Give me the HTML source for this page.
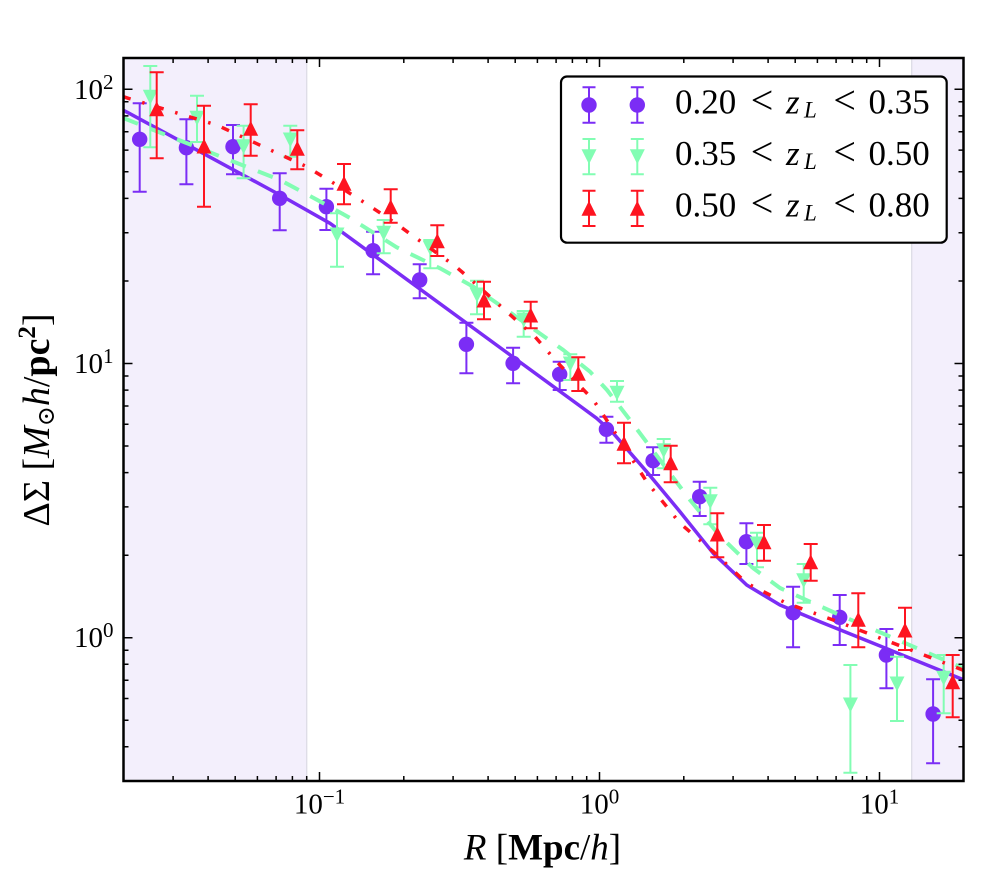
<!DOCTYPE html>
<html>
<head>
<meta charset="utf-8">
<style>
  html,body{margin:0;padding:0;background:#fff;}
  svg{display:block;}
</style>
</head>
<body>
<svg width="1000" height="882" viewBox="0 0 1000 882" xmlns="http://www.w3.org/2000/svg" font-family="'Liberation Serif', 'DejaVu Serif', serif">
  <defs>
    <clipPath id="ax"><rect x="123.5" y="58" width="840" height="723"/></clipPath>
    <circle id="pc" cx="0" cy="0" r="7.7" fill="#7b2df5"/>
    <polygon id="gt" points="-7.5,-7.5 7.5,-7.5 0,7.5" fill="#82fdb3"/>
    <polygon id="rt" points="0,-7.5 -7.5,7.5 7.5,7.5" fill="#fe1420"/>
  </defs>
  <rect x="0" y="0" width="1000" height="882" fill="#fff"/>

  <!-- shaded regions -->
  <rect x="123.5" y="58" width="183.2" height="723" fill="#f3effc"/>
  <rect x="911.7" y="58" width="51.8" height="723" fill="#f3effc"/>
  <line x1="306.7" y1="58" x2="306.7" y2="781" stroke="#dddce6" stroke-width="1.3"/>
  <line x1="911.7" y1="58" x2="911.7" y2="781" stroke="#dddce6" stroke-width="1.3"/>

  <g clip-path="url(#ax)">
    <!-- purple series -->
    <path fill="none" stroke="#7b2df5" stroke-width="2" d="M139.7 103.3V191.7M132.7 103.3h14M132.7 191.7h14
M186.4 119.3V184.3M179.4 119.3h14M179.4 184.3h14
M233 125V174.3M226 125h14M226 174.3h14
M279.7 173.3V230.3M272.7 173.3h14M272.7 230.3h14
M326.4 188.7V230M319.4 188.7h14M319.4 230h14
M373.1 231.7V274.3M366.1 231.7h14M366.1 274.3h14
M419.7 264.3V298.3M412.7 264.3h14M412.7 298.3h14
M466.4 322.7V373.3M459.4 322.7h14M459.4 373.3h14
M513.1 347.7V383.3M506.1 347.7h14M506.1 383.3h14
M559.7 361.7V390M552.7 361.7h14M552.7 390h14
M606.4 416.7V442.7M599.4 416.7h14M599.4 442.7h14
M653.1 447.3V475M646.1 447.3h14M646.1 475h14
M699.7 481.7V516M692.7 481.7h14M692.7 516h14
M746.4 523.3V564M739.4 523.3h14M739.4 564h14
M793.1 586.7V647.3M786.1 586.7h14M786.1 647.3h14
M839.7 595V645M832.7 595h14M832.7 645h14
M886.4 629V688.3M879.4 629h14M879.4 688.3h14
M933.1 679.3V763.3M926.1 679.3h14M926.1 763.3h14"/>
    <use href="#pc" x="139.7" y="139.3"/>
    <use href="#pc" x="186.4" y="147.7"/>
    <use href="#pc" x="233" y="146.7"/>
    <use href="#pc" x="279.7" y="198.3"/>
    <use href="#pc" x="326.4" y="206.7"/>
    <use href="#pc" x="373.1" y="250.7"/>
    <use href="#pc" x="419.7" y="280"/>
    <use href="#pc" x="466.4" y="344.3"/>
    <use href="#pc" x="513.1" y="363.3"/>
    <use href="#pc" x="559.7" y="374.3"/>
    <use href="#pc" x="606.4" y="429.3"/>
    <use href="#pc" x="653.1" y="460.7"/>
    <use href="#pc" x="699.7" y="496.7"/>
    <use href="#pc" x="746.4" y="541.7"/>
    <use href="#pc" x="793.1" y="612.7"/>
    <use href="#pc" x="839.7" y="617.3"/>
    <use href="#pc" x="886.4" y="655"/>
    <use href="#pc" x="933.1" y="714"/>
    <polyline fill="none" stroke="#7b2df5" stroke-width="3.5" stroke-linejoin="round"
      points="123,110 280,195 330,223.3 580,406 596.7,418.3 613.3,433.3 646.7,471.7 680,511.7 713.3,553.3 746.7,585 780,605 820,621.7 964,680"/>

    <!-- green series -->
    <path fill="none" stroke="#82fdb3" stroke-width="2" d="M150.3 66V147.3M143.3 66h14M143.3 147.3h14
M197 95.7V142M190 95.7h14M190 142h14
M243.6 125.7V178.3M236.6 125.7h14M236.6 178.3h14
M290.3 125.7V156.7M283.3 125.7h14M283.3 156.7h14
M337 213.3V266.7M330 213.3h14M330 266.7h14
M383.7 220V253.3M376.7 220h14M376.7 253.3h14
M430.3 240V268.3M423.3 240h14M423.3 268.3h14
M477 280.7V314.3M470 280.7h14M470 314.3h14
M523.7 311V336.7M516.7 311h14M516.7 336.7h14
M570.3 354.3V380M563.3 354.3h14M563.3 380h14
M617 381V401.7M610 381h14M610 401.7h14
M663.7 439V468.3M656.7 439h14M656.7 468.3h14
M710.3 487.7V524.3M703.3 487.7h14M703.3 524.3h14
M757 532.7V567.3M750 532.7h14M750 567.3h14
M803.7 564V602.7M796.7 564h14M796.7 602.7h14
M850.4 665V772.7M843.4 665h14M843.4 772.7h14
M897 656.7V721M890 656.7h14M890 721h14
M943.7 655V713.3M936.7 655h14M936.7 713.3h14"/>
    <use href="#gt" x="150.3" y="97.3"/>
    <use href="#gt" x="197" y="118.3"/>
    <use href="#gt" x="243.6" y="146.7"/>
    <use href="#gt" x="290.3" y="140"/>
    <use href="#gt" x="337" y="235"/>
    <use href="#gt" x="383.7" y="233.3"/>
    <use href="#gt" x="430.3" y="248.3"/>
    <use href="#gt" x="477" y="295"/>
    <use href="#gt" x="523.7" y="320"/>
    <use href="#gt" x="570.3" y="364"/>
    <use href="#gt" x="617" y="393.3"/>
    <use href="#gt" x="663.7" y="450.7"/>
    <use href="#gt" x="710.3" y="501.7"/>
    <use href="#gt" x="757" y="544"/>
    <use href="#gt" x="803.7" y="580.7"/>
    <use href="#gt" x="850.4" y="705"/>
    <use href="#gt" x="897" y="684"/>
    <use href="#gt" x="943.7" y="678.3"/>
    <polyline fill="none" stroke="#82fdb3" stroke-width="4" stroke-dasharray="16 13" stroke-linejoin="round"
      points="123,118 128.3,120 280,180 305,193.3 326.7,205 350,218 396.7,247.3 440,268.3 473.3,286.7 506.7,310 563.3,350 590,371.7 607,390 630,420 660,460 690,500 720,536 753,568 780,588 813,603 833,612 964,668.5"/>

    <!-- red series -->
    <path fill="none" stroke="#fe1420" stroke-width="2" d="M156.7 72.3V158.3M149.7 72.3h14M149.7 158.3h14
M204 105.7V206.7M197 105.7h14M197 206.7h14
M250.7 104.3V155.7M243.7 104.3h14M243.7 155.7h14
M297.3 130.3V169.3M290.3 130.3h14M290.3 169.3h14
M344 164V204.3M337 164h14M337 204.3h14
M390.7 189.3V222.7M383.7 189.3h14M383.7 222.7h14
M437.3 225.3V256M430.3 225.3h14M430.3 256h14
M484 281.7V319.3M477 281.7h14M477 319.3h14
M530.7 301.7V328.3M523.7 301.7h14M523.7 328.3h14
M578.3 357.3V391M571.3 357.3h14M571.3 391h14
M624 422.7V463.3M617 422.7h14M617 463.3h14
M670.7 445.7V482.3M663.7 445.7h14M663.7 482.3h14
M717.3 513.3V557.3M710.3 513.3h14M710.3 557.3h14
M764 525V560.7M757 525h14M757 560.7h14
M810.7 544V580.7M803.7 544h14M803.7 580.7h14
M858.3 593.3V647.3M851.3 593.3h14M851.3 647.3h14
M905 607.7V650M898 607.7h14M898 650h14
M952.7 655V717.3M945.7 655h14M945.7 717.3h14"/>
    <use href="#rt" x="156.7" y="108.8"/>
    <use href="#rt" x="204" y="146"/>
    <use href="#rt" x="250.7" y="128.3"/>
    <use href="#rt" x="297.3" y="148.3"/>
    <use href="#rt" x="344" y="183.3"/>
    <use href="#rt" x="390.7" y="206.7"/>
    <use href="#rt" x="437.3" y="240.7"/>
    <use href="#rt" x="484" y="300"/>
    <use href="#rt" x="530.7" y="315"/>
    <use href="#rt" x="578.3" y="373.3"/>
    <use href="#rt" x="624" y="443.3"/>
    <use href="#rt" x="670.7" y="462.7"/>
    <use href="#rt" x="717.3" y="534"/>
    <use href="#rt" x="764" y="541.7"/>
    <use href="#rt" x="810.7" y="561.7"/>
    <use href="#rt" x="858.3" y="619.3"/>
    <use href="#rt" x="905" y="630"/>
    <use href="#rt" x="952.7" y="681.7"/>
    <polyline fill="none" stroke="#fe1420" stroke-width="3.5" stroke-dasharray="8 12 2.5 12" stroke-linejoin="round"
      points="123,96.5 128.3,98.3 216.7,125 263.3,146.7 306.7,166.7 323,176.7 336.7,185 368.3,205 396.7,224 411.7,235 455,266 468.3,277.3 490,296.7 506.7,311.7 535,336.7 556.7,361.7 593.3,400 613.3,430 646.7,481.7 680,523.3 713.3,551.7 746.7,583.3 786.7,603.3 833.3,620 964,670.5"/>
  </g>

  <!-- ticks -->
  <path fill="none" stroke="#000" stroke-width="1.5" d="
M319.5 781v-9M599.5 781v-9M879.5 781v-9M319.5 58v9M599.5 58v9M879.5 58v9
M123.5 89.3h9M123.5 363.5h9M123.5 637.7h9M963.5 89.3h-9M963.5 363.5h-9M963.5 637.7h-9
M173.1 781v-5M208.1 781v-5M235.2 781v-5M257.4 781v-5M276.1 781v-5M292.4 781v-5M306.7 781v-5
M403.8 781v-5M453.1 781v-5M488.1 781v-5M515.2 781v-5M537.4 781v-5M556.1 781v-5M572.4 781v-5M586.7 781v-5
M683.8 781v-5M733.1 781v-5M768.1 781v-5M795.2 781v-5M817.4 781v-5M836.1 781v-5M852.4 781v-5M866.7 781v-5
M173.1 58v5M208.1 58v5M235.2 58v5M257.4 58v5M276.1 58v5M292.4 58v5M306.7 58v5
M403.8 58v5M453.1 58v5M488.1 58v5M515.2 58v5M537.4 58v5M556.1 58v5M572.4 58v5M586.7 58v5
M683.8 58v5M733.1 58v5M768.1 58v5M795.2 58v5M817.4 58v5M836.1 58v5M852.4 58v5M866.7 58v5
M123.5 746.8h5M123.5 720.2h5M123.5 698.5h5M123.5 680.2h5M123.5 664.3h5M123.5 650.2h5
M123.5 555.2h5M123.5 506.9h5M123.5 472.6h5M123.5 446h5M123.5 424.3h5M123.5 406h5M123.5 390.1h5M123.5 376h5
M123.5 281h5M123.5 232.7h5M123.5 198.4h5M123.5 171.8h5M123.5 150.1h5M123.5 131.8h5M123.5 115.9h5M123.5 101.8h5
M963.5 746.8h-5M963.5 720.2h-5M963.5 698.5h-5M963.5 680.2h-5M963.5 664.3h-5M963.5 650.2h-5
M963.5 555.2h-5M963.5 506.9h-5M963.5 472.6h-5M963.5 446h-5M963.5 424.3h-5M963.5 406h-5M963.5 390.1h-5M963.5 376h-5
M963.5 281h-5M963.5 232.7h-5M963.5 198.4h-5M963.5 171.8h-5M963.5 150.1h-5M963.5 131.8h-5M963.5 115.9h-5M963.5 101.8h-5"/>

  <!-- spines -->
  <rect x="123.5" y="58" width="840" height="723" fill="none" stroke="#000" stroke-width="2.5"/>

  <!-- tick labels -->
  <g font-size="29" fill="#000">
    <text x="113.5" y="99" text-anchor="end">10<tspan dy="-10" font-size="21">2</tspan></text>
    <text x="113.5" y="372.8" text-anchor="end">10<tspan dy="-10" font-size="21">1</tspan></text>
    <text x="113.5" y="647" text-anchor="end">10<tspan dy="-10" font-size="21">0</tspan></text>
    <text x="319.5" y="813.3" text-anchor="middle">10<tspan dy="-10" font-size="21">−1</tspan></text>
    <text x="599.5" y="813.3" text-anchor="middle">10<tspan dy="-10" font-size="21">0</tspan></text>
    <text x="879.5" y="813.3" text-anchor="middle">10<tspan dy="-10" font-size="21">1</tspan></text>
  </g>

  <!-- axis labels -->
  <text x="542.5" y="859.3" text-anchor="middle" font-size="37" fill="#000"><tspan font-style="italic">R</tspan> [<tspan font-weight="bold">Mpc</tspan>/<tspan font-style="italic">h</tspan>]</text>
  <text transform="translate(49,420) rotate(-90)" x="0" y="0" text-anchor="middle" font-size="38" fill="#000">ΔΣ [<tspan font-style="italic">M</tspan><tspan font-size="24" dy="5">⊙</tspan><tspan dy="-5" font-style="italic">h</tspan>/<tspan font-weight="bold">pc</tspan><tspan font-weight="bold" font-size="25" dy="-14">2</tspan><tspan dy="14">]</tspan></text>

  <!-- legend -->
  <rect x="561" y="76.5" width="385.7" height="166.2" rx="6" ry="6" fill="#fff" stroke="#000" stroke-width="2.2"/>
  <path fill="none" stroke="#7b2df5" stroke-width="2" d="M589 87.3V122.7M582.5 87.3h13M582.5 122.7h13M637.3 87.3V122.7M630.8 87.3h13M630.8 122.7h13"/>
  <use href="#pc" x="589" y="105"/>
  <use href="#pc" x="637.3" y="105"/>
  <path fill="none" stroke="#82fdb3" stroke-width="2" d="M589 139V174.3M582.5 139h13M582.5 174.3h13M637.3 139V174.3M630.8 139h13M630.8 174.3h13"/>
  <use href="#gt" x="589" y="156.7"/>
  <use href="#gt" x="637.3" y="156.7"/>
  <path fill="none" stroke="#fe1420" stroke-width="2" d="M589 190.7V226M582.5 190.7h13M582.5 226h13M637.3 190.7V226M630.8 190.7h13M630.8 226h13"/>
  <use href="#rt" x="589" y="208.3"/>
  <use href="#rt" x="637.3" y="208.3"/>

  <g font-size="35" fill="#000">
    <text x="675" y="113.5">0.20</text>
    <text x="762" y="113.5" text-anchor="middle" font-size="40">&lt;</text>
    <text x="786" y="113.5" font-style="italic">z</text>
    <text x="804" y="117.5" font-style="italic" font-size="23">L</text>
    <text x="844.7" y="113.5" text-anchor="middle" font-size="40">&lt;</text>
    <text x="868.5" y="113.5">0.35</text>

    <text x="675" y="164.8">0.35</text>
    <text x="762" y="164.8" text-anchor="middle" font-size="40">&lt;</text>
    <text x="786" y="164.8" font-style="italic">z</text>
    <text x="804" y="168.8" font-style="italic" font-size="23">L</text>
    <text x="844.7" y="164.8" text-anchor="middle" font-size="40">&lt;</text>
    <text x="868.5" y="164.8">0.50</text>

    <text x="675" y="216.3">0.50</text>
    <text x="762" y="216.3" text-anchor="middle" font-size="40">&lt;</text>
    <text x="786" y="216.3" font-style="italic">z</text>
    <text x="804" y="220.3" font-style="italic" font-size="23">L</text>
    <text x="844.7" y="216.3" text-anchor="middle" font-size="40">&lt;</text>
    <text x="868.5" y="216.3">0.80</text>
  </g>
</svg>
</body>
</html>
